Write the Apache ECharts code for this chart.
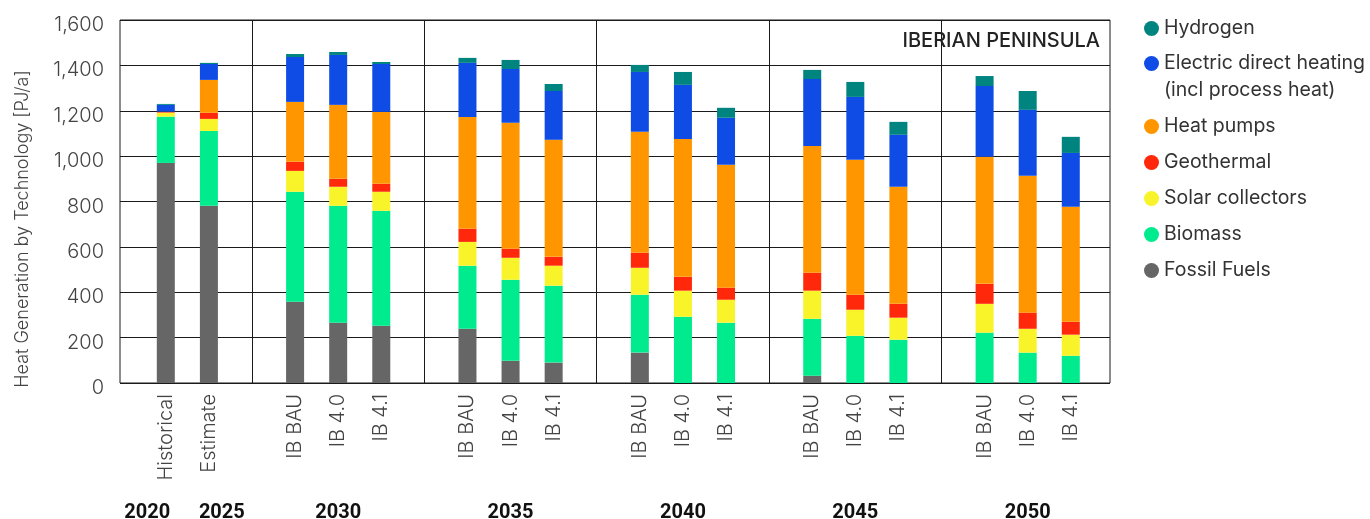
<!DOCTYPE html>
<html>
<head>
<meta charset="utf-8">
<title>Heat Generation by Technology – Iberian Peninsula</title>
<script src="https://cdn.jsdelivr.net/npm/echarts@6/dist/echarts.min.js"></script>
<style>
  html, body { margin: 0; padding: 0; background: #ffffff; }
  #chart { width: 1370px; height: 519px; }
</style>
</head>
<body>
<div id="chart"></div>
<script>
// Bar slots along the x axis; empty strings leave a gap between year groups.
const categories = [
  'Historical', 'Estimate', '',
  'IB BAU', 'IB 4.0', 'IB 4.1', '',
  'IB BAU', 'IB 4.0', 'IB 4.1', '',
  'IB BAU', 'IB 4.0', 'IB 4.1', '',
  'IB BAU', 'IB 4.0', 'IB 4.1', '',
  'IB BAU', 'IB 4.0', 'IB 4.1'
];

// Year headings under each group
const years = ['2020', '2025', '2030', '2035', '2040', '2045', '2050'];

// Heat generation per technology, PJ/a, one value per bar (non-empty slots, left to right)
const fossilFuels  = [970, 781, 358, 266, 252, 239,  98,  90, 134,   0,   0,  32,   0,   0,   0,   0,   0];
const biomass      = [204, 330, 485, 515, 507, 278, 357, 339, 255, 292, 266, 251, 208, 191, 222, 134, 120];
const solar        = [ 18,  53,  92,  84,  84, 105,  97,  88, 119, 115, 101, 124, 115,  97, 127, 105,  93];
const geothermal   = [  4,  27,  40,  35,  35,  58,  40,  39,  66,  61,  53,  79,  66,  61,  88,  71,  57];
const heatPumps    = [  0, 145, 264, 326, 317, 493, 555, 516, 533, 608, 542, 559, 595, 516, 560, 603, 507];
const electric     = [ 30,  70, 198, 220, 211, 238, 237, 215, 264, 238, 207, 295, 277, 229, 312, 291, 237];
const hydrogen     = [  4,   5,  13,  13,   9,  22,  40,  31,  31,  57,  44,  40,  66,  57,  44,  83,  71];

// Y axis ticks
const yTicks = [0, 200, 400, 600, 800, 1000, 1200, 1400, 1600];

const ELECTRIC_NAME = 'Electric direct heating\n(incl process heat)';

// Slot index of every drawn bar and of every group separator
const barSlots = [];
const gapSlots = [];
categories.forEach((c, i) => (c ? barSlots : gapSlots).push(i));

// Year headings sit under the middle bar of each scenario group; the two
// single-bar years are nudged outward a little.
const groupCentres = [];
for (let g = 0; g < gapSlots.length; g++) {
  const start = gapSlots[g] + 1;
  const end = g + 1 < gapSlots.length ? gapSlots[g + 1] - 1 : categories.length - 1;
  groupCentres.push((start + end) / 2);
}
const yearAnchors = [barSlots[0] - 0.43, barSlots[1] + 0.3].concat(groupCentres);

const FONT = 'Inter, Roboto, "Noto Sans", sans-serif';
const YEAR_FONT = 'Roboto, "Liberation Sans Narrow", sans-serif';

// [value, slot] pairs: the value comes first so that stacking runs on it
function pairs(values) {
  return values.map((v, i) => [v, barSlots[i]]);
}

const seriesDefs = [
  { name: 'Fossil Fuels',      values: fossilFuels, color: '#666666' },
  { name: 'Biomass',           values: biomass,     color: '#00EB8D' },
  { name: 'Solar collectors',  values: solar,       color: '#F9F42A' },
  { name: 'Geothermal',        values: geothermal,  color: '#FF280A' },
  { name: 'Heat pumps',        values: heatPumps,   color: '#FF9600' },
  { name: ELECTRIC_NAME,       values: electric,    color: '#0F4CE6' },
  { name: 'Hydrogen',          values: hydrogen,    color: '#008480' }
];

const series = seriesDefs.map((d, k) => {
  const s = {
    name: d.name,
    type: 'bar',
    stack: 'total',
    barWidth: 18,
    encode: { x: 1, y: 0 },
    data: pairs(d.values),
    itemStyle: { color: d.color },
    emphasis: { disabled: true }
  };
  if (k === seriesDefs.length - 1) {
    // vertical separators between year groups
    s.markLine = {
      silent: true,
      symbol: ['none', 'none'],
      label: { show: false },
      lineStyle: { color: '#1a1a1a', width: 1, type: 'solid' },
      data: gapSlots.map(i => ({ xAxis: i }))
    };
  }
  return s;
});

const xMin = -1.063;
const xMax = 21.91;

const legendCommon = {
  orient: 'vertical',
  left: 1144,
  padding: 0,
  itemGap: 9,
  itemWidth: 15,
  itemHeight: 15,
  icon: 'circle',
  selectedMode: false,
  textStyle: { fontFamily: FONT, fontSize: 19.5, lineHeight: 27, color: '#333333' }
};

const chart = echarts.init(document.getElementById('chart'), null, { renderer: 'canvas' });

chart.setOption({
  animation: false,
  backgroundColor: '#ffffff',
  textStyle: { fontFamily: FONT },
  title: {
    text: 'IBERIAN PENINSULA',
    right: 270,
    top: 31,
    padding: 0,
    textStyle: { fontFamily: FONT, fontSize: 20, fontWeight: 500, color: '#222222' }
  },
  legend: [
    Object.assign({}, legendCommon, { top: 15, data: ['Hydrogen'] }),
    Object.assign({}, legendCommon, {
      top: 23,
      // a blank first line keeps the marker level with the first text line
      formatter: name => (name === ELECTRIC_NAME ? ' \n' + name : name),
      data: [ELECTRIC_NAME, 'Heat pumps', 'Geothermal', 'Solar collectors', 'Biomass', 'Fossil Fuels']
    })
  ],
  grid: {
    left: 120,
    right: 260,
    top: 20,
    bottom: 136,
    show: true,
    borderColor: '#1a1a1a',
    borderWidth: 1,
    containLabel: false,
    outerBoundsMode: 'none'
  },
  xAxis: [
    {
      type: 'value',
      min: xMin,
      max: xMax,
      axisLine: { show: false },
      axisTick: { show: false },
      splitLine: { show: false },
      axisLabel: {
        customValues: barSlots,
        formatter: v => categories[Math.round(v)],
        rotate: 90,
        margin: 11,
        fontFamily: FONT,
        fontSize: 20,
        fontWeight: 300,
        color: '#444444'
      }
    },
    {
      type: 'value',
      position: 'bottom',
      min: xMin,
      max: xMax,
      axisLine: { show: false },
      axisTick: { show: false },
      splitLine: { show: false },
      axisLabel: {
        customValues: yearAnchors,
        formatter: v => {
          const k = yearAnchors.findIndex(a => Math.abs(a - v) < 1e-6);
          return k >= 0 ? years[k] : '';
        },
        margin: 120,
        fontFamily: YEAR_FONT,
        fontSize: 20,
        fontWeight: 700,
        color: '#111111'
      }
    }
  ],
  yAxis: {
    type: 'value',
    min: yTicks[0],
    max: yTicks[yTicks.length - 1],
    interval: yTicks[1] - yTicks[0],
    name: 'Heat Generation by Technology [PJ/a]',
    nameLocation: 'middle',
    nameGap: 88,
    nameTextStyle: {
      fontFamily: FONT,
      fontSize: 18,
      fontWeight: 300,
      color: '#444444',
      padding: [0, 55, 0, 0]
    },
    axisLine: { show: false },
    axisTick: { show: false },
    splitLine: { show: true, lineStyle: { color: '#1a1a1a', width: 1 } },
    axisLabel: {
      margin: 16,
      verticalAlign: 'top',
      lineHeight: 10,
      fontFamily: FONT,
      fontSize: 20,
      fontWeight: 300,
      color: '#444444'
    }
  },
  series: series
});
</script>
</body>
</html>
